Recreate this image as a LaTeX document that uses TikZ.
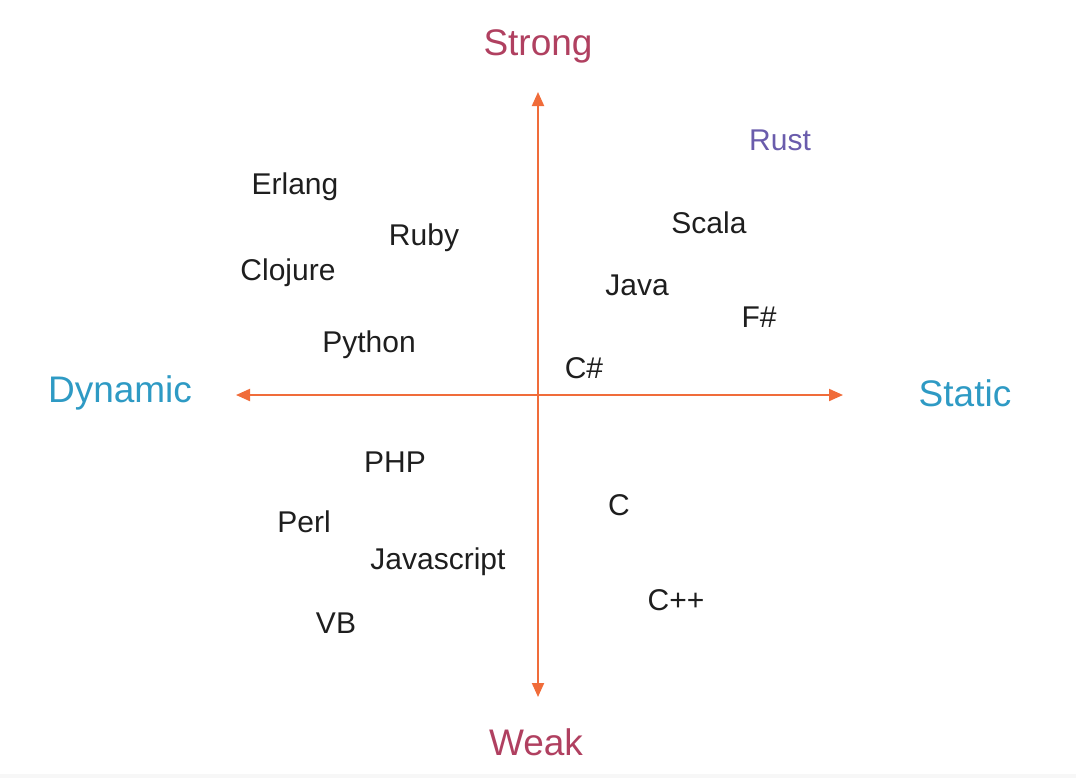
\documentclass[tikz,border=0pt]{standalone}
\usepackage{fontspec}
\setmainfont{Liberation Sans}
\usetikzlibrary{arrows.meta}
\definecolor{axisorange}{RGB}{240,108,58}
\definecolor{strongred}{RGB}{176,64,96}
\definecolor{statblue}{RGB}{46,154,196}
\definecolor{rustpurple}{RGB}{106,92,172}
\definecolor{langtext}{RGB}{30,30,30}
\tikzset{
  axis/.style={draw=axisorange,line width=1pt,-{Triangle[length=7pt,width=6pt]}},
  axislabel/.style={font=\fontsize{18.5}{20}\selectfont,yshift=-1pt},
  lang/.style={font=\fontsize{15}{17}\selectfont,text=langtext,yshift=-1.25pt}
}
\begin{document}
\begin{tikzpicture}[x=0.5pt,y=-0.5pt]
\useasboundingbox (0,0) rectangle (1076,778);
\fill[black!3] (0,774) rectangle (1076,778);

%AXES
\coordinate (o) at (538,395);
\coordinate (top) at (538,92);
\coordinate (bottom) at (538,697);
\coordinate (left) at (236,395);
\coordinate (right) at (843,395);
\draw[axis] (o) -- (top);
\draw[axis] (o) -- (bottom);
\draw[axis] (o) -- (left);
\draw[axis] (o) -- (right);

%AXIS LABELS
\node[axislabel,text=strongred] (strong) at (538,44) {Strong};
\node[axislabel,text=strongred] (weak) at (536,740) {Weak};
\node[axislabel,text=statblue] (dynamic) at (120,391) {Dynamic};
\node[axislabel,text=statblue] (static) at (965,391) {Static};

%LANGUAGES
% strong, dynamic
\node[lang] (erlang) at (295,184) {Erlang};
\node[lang] (ruby) at (424,235) {Ruby};
\node[lang] (clojure) at (288,270) {Clojure};
\node[lang] (python) at (369,342) {Python};
% strong, static
\node[lang,text=rustpurple] (rust) at (780,138) {Rust};
\node[lang] (scala) at (709,220) {Scala};
\node[lang] (java) at (637,283) {Java};
\node[lang] (fsharp) at (759,315) {F\#};
\node[lang] (csharp) at (584,366) {C\#};
% weak, dynamic
\node[lang] (php) at (395,460) {PHP};
\node[lang] (perl) at (304,519) {Perl};
\node[lang] (javascript) at (438,559) {Javascript};
\node[lang] (vb) at (336,621) {VB};
% weak, static
\node[lang] (c) at (619,503) {C};
\node[lang] (cpp) at (676,598) {C++};

\end{tikzpicture}
\end{document}
